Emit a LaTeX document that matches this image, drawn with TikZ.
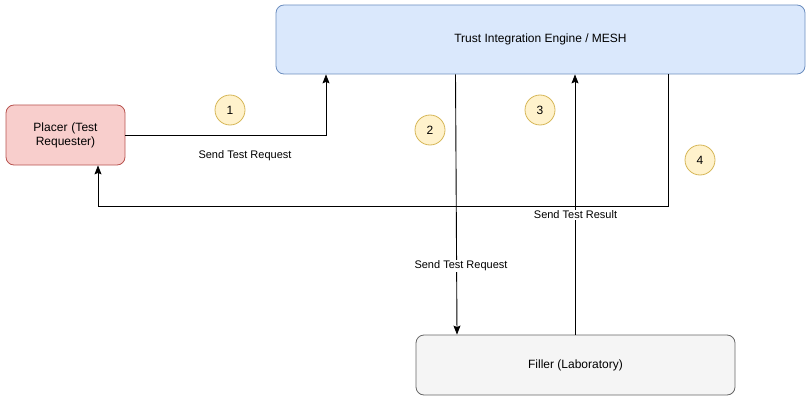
\documentclass[tikz,border=0pt]{standalone}
\usepackage{fontspec}
\setmainfont{Liberation Sans}
\usetikzlibrary{arrows.meta,calc}
\definecolor{tiefill}{HTML}{DAE8FC}\definecolor{tiedraw}{HTML}{6C8EBF}
\definecolor{plfill}{HTML}{F8CECC}\definecolor{pldraw}{HTML}{B85450}
\definecolor{fifill}{HTML}{F5F5F5}\definecolor{fidraw}{HTML}{666666}
\definecolor{nufill}{HTML}{FFF2CC}\definecolor{nudraw}{HTML}{D6B656}
\tikzset{
  box/.style={rounded corners=8pt, line width=0.8pt, inner sep=0pt, align=center, font=\fontsize{12}{14}\selectfont},
  num/.style={circle, fill=nufill, draw=nudraw, line width=0.8pt, minimum size=30pt, inner sep=0pt, font=\fontsize{12}{14}\selectfont},
  conn/.style={line width=0.9pt, -{Stealth[length=9pt,width=7pt,inset=1.5pt]}},
  lbl/.style={font=\fontsize{11}{13}\selectfont, inner sep=1pt},
}
\begin{document}
\begin{tikzpicture}[x=1pt,y=-1pt]
\useasboundingbox (0,0) rectangle (811,401);
\node[box, fill=tiefill, draw=tiedraw, minimum width=529pt, minimum height=69pt] (tie) at (540.5,39.5) {Trust Integration Engine / MESH};
\node[box, fill=plfill, draw=pldraw, minimum width=119pt, minimum height=60pt, text width=100pt] (placer) at (65.5,135) {Placer (Test\\Requester)};
\node[box, fill=fifill, draw=fidraw, minimum width=319pt, minimum height=60pt] (filler) at (575.5,365) {Filler (Laboratory)};
\node[num] (n1) at (230,110) {1};
\node[num] (n2) at (430,130) {2};
\node[num] (n3) at (540,110) {3};
\node[num] (n4) at (700,160) {4};
% 1
\coordinate (c1) at (326,135);
\draw[conn] (placer.east) -- (c1) -- (c1 |- tie.south);
\node[lbl] (l1) at (245,156) {Send Test Request};
% 2
\coordinate (s2) at (455.5,74);
\coordinate (e2) at (457,335);
\draw[conn] (s2 |- tie.south) -- (e2 |- filler.north);
\node[lbl, fill=white] (l2) at (461,266) {Send Test Request};
% 3
\coordinate (s3) at (575,335);
\draw[conn] (s3 |- filler.north) -- (s3 |- tie.south);
\node[lbl, fill=white] (l3) at (575.5,215) {Send Test Result};
% 4
\coordinate (a4) at (668,206);
\coordinate (b4) at (98,206);
\draw[conn] (a4 |- tie.south) -- (a4) -- (b4) -- (b4 |- placer.south);
\end{tikzpicture}
\end{document}
